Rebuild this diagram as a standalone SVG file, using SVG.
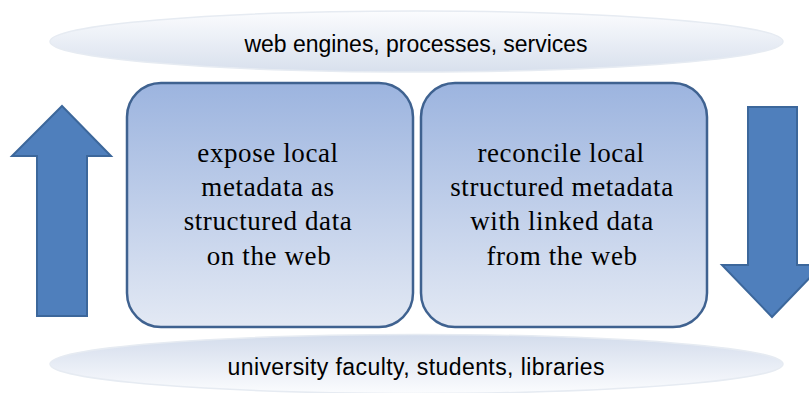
<svg xmlns="http://www.w3.org/2000/svg" width="809" height="393" viewBox="0 0 809 393">
<defs>
<linearGradient id="gTop" x1="0" y1="0" x2="0" y2="1">
<stop offset="0" stop-color="#fbfcfe"/>
<stop offset="1" stop-color="#d8e0ed"/>
</linearGradient>
<linearGradient id="gBot" x1="0" y1="0" x2="0" y2="1">
<stop offset="0" stop-color="#d3dcec"/>
<stop offset="1" stop-color="#fbfcfe"/>
</linearGradient>
<linearGradient id="gBox" x1="0" y1="0" x2="0" y2="1">
<stop offset="0" stop-color="#9cb4df"/>
<stop offset="1" stop-color="#e3e9f4"/>
</linearGradient>
<style>
.ell{stroke:#e6ebf2;stroke-width:1.5}
.box{fill:url(#gBox);stroke:#3f6290;stroke-width:2.5}
.arrow{fill:#4f7fbc;stroke:#3c679b;stroke-width:2}
.sans{font-family:"Liberation Sans","Open Sans",sans-serif;font-size:23px;fill:#000;text-anchor:middle}
.serif{font-family:"Liberation Serif","DejaVu Serif",serif;font-size:27px;fill:#000;text-anchor:middle;letter-spacing:0.6px}
</style>
</defs>
<g id="top-layer">
<ellipse class="ell" cx="416.5" cy="41.5" rx="366.5" ry="30.5" fill="url(#gTop)"/>
<text class="sans" x="416" y="52" textLength="343" lengthAdjust="spacing">web engines, processes, services</text>
</g>
<g id="bottom-layer">
<ellipse class="ell" cx="416.5" cy="364" rx="366.5" ry="29.5" fill="url(#gBot)"/>
<text class="sans" x="416" y="375" textLength="377" lengthAdjust="spacing">university faculty, students, libraries</text>
</g>
<g id="box-expose">
<rect class="box" x="127" y="83" width="286" height="244" rx="34" ry="34"/>
<text class="serif" x="268" y="162">expose local</text>
<text class="serif" x="268" y="196">metadata as</text>
<text class="serif" x="268" y="230">structured data</text>
<text class="serif" x="269" y="265">on the web</text>
</g>
<g id="box-reconcile">
<rect class="box" x="421" y="83" width="286" height="244" rx="34" ry="34"/>
<text class="serif" x="561" y="162">reconcile local</text>
<text class="serif" x="562" y="196">structured metadata</text>
<text class="serif" x="562" y="230">with linked data</text>
<text class="serif" x="562" y="265">from the web</text>
</g>
<g id="connectors">
<polygon id="arrow-up" class="arrow" points="62,106 111,156 87,156 87,316 37,316 37,156 12,156"/>
<polygon id="arrow-down" class="arrow" points="748,107 797,107 797,265 822,265 772,317 722,265 748,265"/>
</g>
</svg>
